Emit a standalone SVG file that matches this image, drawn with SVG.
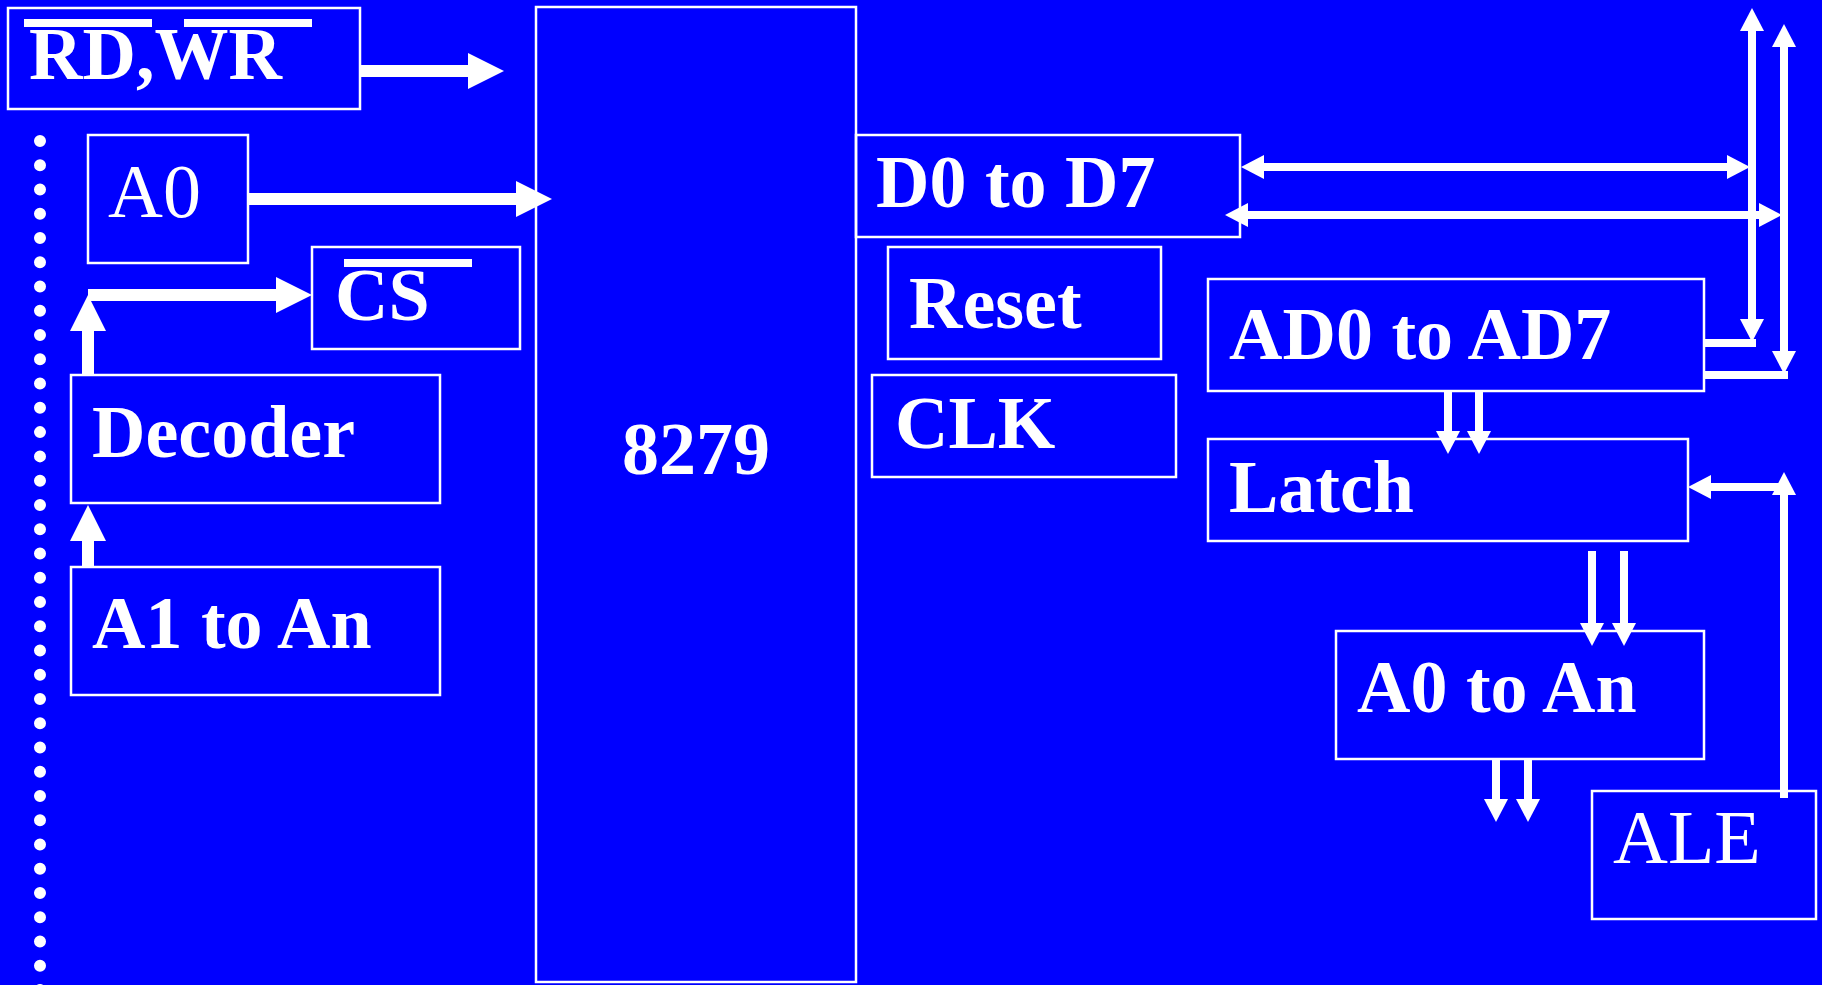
<svg xmlns="http://www.w3.org/2000/svg" width="1822" height="985" viewBox="0 0 1822 985">
<style>
.box{fill:none;stroke:#fff;stroke-width:2.5}
.t{font-family:"Liberation Serif","Times New Roman",serif;font-size:74px;fill:#fff;font-weight:bold}
.r{font-weight:normal;font-size:76px}
.bar{fill:#fff}
.big{stroke:#fff;stroke-width:12;fill:none;marker-end:url(#hb)}
.sm{stroke:#fff;stroke-width:8;fill:none}
.e{marker-end:url(#hs)}
.s{marker-start:url(#hs)}
</style>
<defs>
<marker id="hb" markerUnits="userSpaceOnUse" markerWidth="40" markerHeight="40" refX="0" refY="18" orient="auto" overflow="visible"><path d="M0,0 L36,18 L0,36 Z" fill="#fff"/></marker>
<marker id="hs" markerUnits="userSpaceOnUse" markerWidth="26" markerHeight="26" refX="0" refY="12" orient="auto-start-reverse" overflow="visible"><path d="M0,0 L23,12 L0,24 Z" fill="#fff"/></marker>
</defs>
<rect width="1822" height="985" fill="#0000FF"/>
<line x1="40" y1="141" x2="40" y2="995" stroke="#fff" stroke-width="12" stroke-linecap="round" stroke-dasharray="0 24.26"/>
<g id="connectors">
<line class="big" x1="360" y1="71" x2="468" y2="71"/>
<line class="big" x1="248" y1="199" x2="516" y2="199"/>
<line class="big" x1="88" y1="375" x2="88" y2="331"/>
<line class="big" x1="88" y1="295" x2="276" y2="295"/>
<line class="big" x1="88" y1="567" x2="88" y2="541"/>
<line class="sm s e" x1="1264" y1="167" x2="1727" y2="167"/>
<line class="sm s e" x1="1248" y1="215" x2="1759" y2="215"/>
<line class="sm s e" x1="1752" y1="31" x2="1752" y2="319"/>
<line class="sm s e" x1="1784" y1="47" x2="1784" y2="351"/>
<line class="sm" x1="1704" y1="343" x2="1756" y2="343"/>
<line class="sm" x1="1704" y1="375" x2="1788" y2="375"/>
<line class="sm e" x1="1448" y1="391" x2="1448" y2="431"/>
<line class="sm e" x1="1479" y1="391" x2="1479" y2="431"/>
<line class="sm e" x1="1592" y1="551" x2="1592" y2="623"/>
<line class="sm e" x1="1624" y1="551" x2="1624" y2="623"/>
<line class="sm e" x1="1496" y1="759" x2="1496" y2="799"/>
<line class="sm e" x1="1528" y1="759" x2="1528" y2="799"/>
<line class="sm e" x1="1784" y1="798" x2="1784" y2="495"/>
<line class="sm e" x1="1788" y1="487" x2="1711" y2="487"/>
</g>
<g id="rdwr"><rect class="box" x="8" y="8" width="352" height="101"/><rect class="bar" x="24" y="19" width="128" height="8"/><rect class="bar" x="184" y="19" width="128" height="8"/><text class="t" x="29" y="79">RD,WR</text></g>
<g id="a0"><rect class="box" x="88" y="135" width="160" height="128"/><text class="t r" x="108" y="217">A0</text></g>
<g id="cs"><rect class="box" x="312" y="247" width="208" height="102"/><rect class="bar" x="344" y="259" width="128" height="8"/><text class="t" x="335" y="320">CS</text></g>
<g id="decoder"><rect class="box" x="71" y="375" width="369" height="128"/><text class="t" x="92" y="457">Decoder</text></g>
<g id="a1an"><rect class="box" x="71" y="567" width="369" height="128"/><text class="t" x="92" y="648">A1 to An</text></g>
<g id="chip"><rect class="box" x="536" y="7" width="320" height="975"/><text class="t" x="622" y="474">8279</text></g>
<g id="d0d7"><rect class="box" x="856" y="135" width="384" height="102"/><text class="t" x="876" y="207">D0 to D7</text></g>
<g id="reset"><rect class="box" x="888" y="247" width="273" height="112"/><text class="t" x="909" y="328">Reset</text></g>
<g id="clk"><rect class="box" x="872" y="375" width="304" height="102"/><text class="t" x="895" y="448">CLK</text></g>
<g id="ad0ad7"><rect class="box" x="1208" y="279" width="496" height="112"/><text class="t" x="1229" y="359">AD0 to AD7</text></g>
<g id="latch"><rect class="box" x="1208" y="439" width="480" height="102"/><text class="t" x="1229" y="512">Latch</text></g>
<g id="a0an"><rect class="box" x="1336" y="631" width="368" height="128"/><text class="t" x="1357" y="712">A0 to An</text></g>
<g id="ale"><rect class="box" x="1592" y="791" width="224" height="128"/><text class="t r" x="1613" y="863">ALE</text></g>
</svg>
